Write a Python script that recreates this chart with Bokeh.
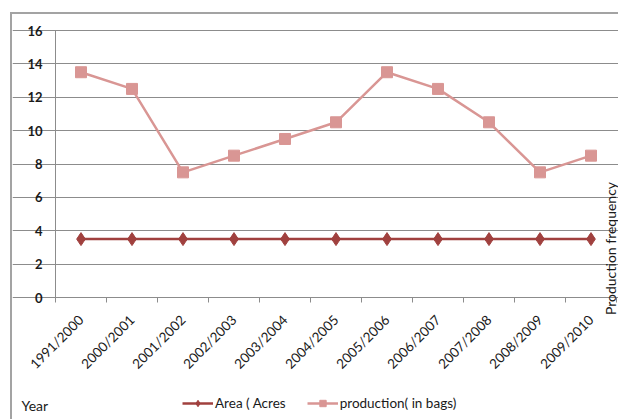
import math
from bokeh.plotting import figure
from bokeh.models import (Range1d, FixedTicker, Legend, LegendItem, Label)
from bokeh.embed import file_html
from bokeh.resources import INLINE

years = ["1991/2000", "2000/2001", "2001/2002", "2002/2003", "2003/2004",
         "2004/2005", "2005/2006", "2006/2007", "2007/2008", "2008/2009",
         "2009/2010"]
area_acres = [3.5, 3.5, 3.5, 3.5, 3.5, 3.5, 3.5, 3.5, 3.5, 3.5, 3.5]
production_bags = [13.5, 12.5, 7.5, 8.5, 9.5, 10.5, 13.5, 12.5, 10.5, 7.5, 8.5]
y_ticks = [0, 2, 4, 6, 8, 10, 12, 14, 16]

idx = list(range(len(years)))
FONT = "Lato"
TXT = "#1a1a1a"
GRID = "#8c8c8c"
AREA_COL = "#A0403E"
PROD_COL = "#D99694"

# Layout in pixels: the frame spans the whole chart box; the value area
# (x -0.5..10.5, y 0..16) sits at px 55..616 x 297..30.
W, H = 618, 419
FL, FT = 12, 14                      # frame left / top
PL, PR, PT, PB = 55, 616, 30, 297    # plotting area
n = len(years)
xu = (PR - PL) / n
yu = (PB - PT) / 16.0
x_start = -0.5 - (PL - FL) / xu
x_end = n - 0.5 + (W - PR) / xu
y_start = 0 - (H - PB) / yu
y_end = 16 + (PT - FT) / yu

p = figure(width=W, height=H, output_backend="svg", toolbar_location=None,
           x_range=Range1d(x_start, x_end), y_range=Range1d(y_start, y_end),
           min_border_left=FL, min_border_right=0, min_border_top=FT,
           min_border_bottom=0)
p.outline_line_color = None
p.background_fill_color = "white"
p.border_fill_alpha = 0
# outer chart box (top and left edges)
p.styles = {
    "background-color": "white",
    "background-image": "linear-gradient(#a3a3a3, #a3a3a3), linear-gradient(#a3a3a3, #a3a3a3)",
    "background-size": "100% 2px, 2px 100%",
    "background-position": "10px 12px, 10px 12px",
    "background-repeat": "no-repeat",
}

# x axis at y = 0
xa = p.xaxis[0]
xa.fixed_location = 0
xa.bounds = (-0.5, n - 0.5)
xa.ticker = FixedTicker(ticks=idx, minor_ticks=[i - 0.5 for i in range(n + 1)])
xa.major_label_overrides = {i: y for i, y in enumerate(years)}
xa.major_label_orientation = math.pi / 4
xa.major_tick_line_color = None
xa.minor_tick_line_color = GRID
xa.minor_tick_in = 0
xa.minor_tick_out = 5
xa.axis_line_color = GRID
xa.major_label_text_font = FONT
xa.major_label_text_font_size = "13.5px"
xa.major_label_text_color = TXT
xa.major_label_standoff = 14

# y axis at x = -0.5
ya = p.yaxis[0]
ya.fixed_location = -0.5
ya.bounds = (0, 16)
ya.ticker = FixedTicker(ticks=y_ticks)
ya.minor_tick_line_color = None
ya.major_tick_line_color = GRID
ya.major_tick_in = 0
ya.major_tick_out = 5
ya.axis_line_color = GRID
ya.major_label_text_font = FONT
ya.major_label_text_font_size = "13px"
ya.major_label_text_font_style = "bold"
ya.major_label_text_color = TXT
ya.major_label_standoff = 8

p.xgrid.grid_line_color = None
p.ygrid.ticker = FixedTicker(ticks=y_ticks)
p.ygrid.bounds = (-0.5, n - 0.5)
p.ygrid.grid_line_color = GRID
p.ygrid.grid_line_width = 1

# series
l1 = p.line(idx, area_acres, line_color=AREA_COL, line_width=2.5)
s1 = p.scatter(idx, area_acres, marker="diamond", size=13,
               fill_color=AREA_COL, line_color=AREA_COL)
l2 = p.line(idx, production_bags, line_color=PROD_COL, line_width=2.5)
s2 = p.scatter(idx, production_bags, marker="square", size=11,
               fill_color=PROD_COL, line_color=PROD_COL)

legend = Legend(items=[LegendItem(label="Area ( Acres", renderers=[l1, s1]),
                       LegendItem(label="production( in bags)", renderers=[l2, s2])],
                orientation="horizontal", location=(182 - FL, H - 411),
                border_line_color=None, background_fill_alpha=0,
                padding=0, margin=0, spacing=21, glyph_width=31,
                glyph_height=16, label_standoff=2,
                label_text_font=FONT, label_text_font_size="13.5px",
                label_text_color=TXT)
p.add_layout(legend, "center")

p.add_layout(Label(x=21 - FL, y=H - 405, x_units="screen", y_units="screen",
                   text="Year", text_font=FONT, text_font_size="14px",
                   text_color=TXT, text_baseline="middle"))

p.add_layout(Label(x=601 - FL, y=H - 248, x_units="screen", y_units="screen",
                   text="Production frequency", angle=math.pi / 2,
                   text_align="center", text_baseline="top",
                   text_font=FONT, text_font_size="14px",
                   text_color=TXT))

open("out.html", "w").write(file_html(p, INLINE))
